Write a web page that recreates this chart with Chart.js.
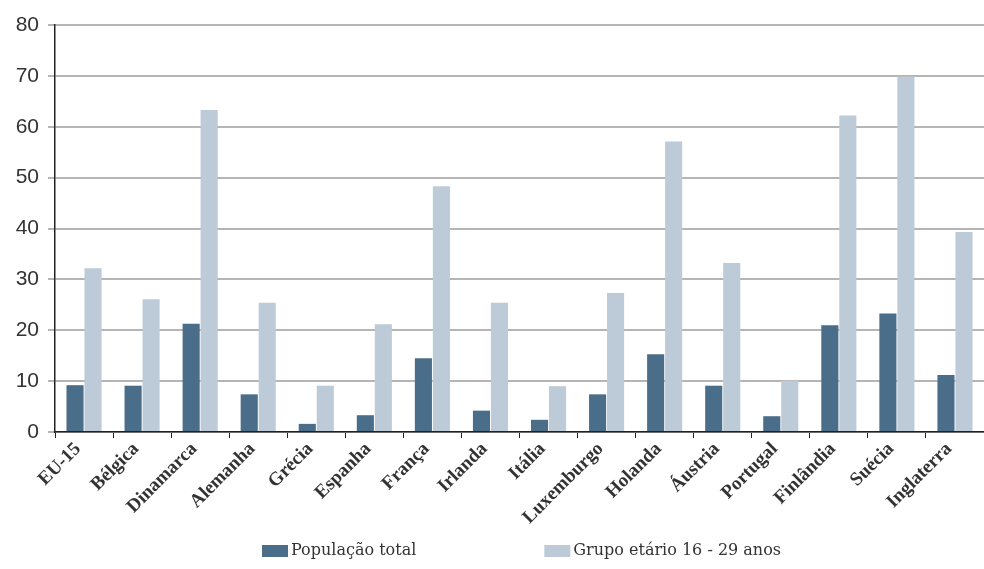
<!DOCTYPE html>
<html>
<head>
<meta charset="utf-8">
<script src="https://cdn.jsdelivr.net/npm/chart.js@4.4.1/dist/chart.umd.min.js"></script>
<style>
  html, body { margin: 0; padding: 0; background: #fff; }
  #wrap { width: 984px; height: 569px; }
</style>
</head>
<body>
<div id="wrap"><canvas id="grafico"></canvas></div>
<script>
/* Categorias e séries */
const PAISES = ["EU-15", "Bélgica", "Dinamarca", "Alemanha", "Grécia", "Espanha", "França", "Irlanda",
  "Itália", "Luxemburgo", "Holanda", "Áustria", "Portugal", "Finlândia", "Suécia", "Inglaterra"];
const POP_TOTAL = [9.2, 9.1, 21.3, 7.4, 1.6, 3.3, 14.5, 4.2, 2.4, 7.4, 15.3, 9.1, 3.1, 21.0, 23.3, 11.2];
const GRUPO_16_29 = [32.2, 26.1, 63.3, 25.4, 9.1, 21.2, 48.3, 25.4, 9.0, 27.3, 57.1, 33.2, 10.1, 62.2, 69.9, 39.3];
const Y_TICKS = [0, 10, 20, 30, 40, 50, 60, 70, 80];

const COR = {
  escuro: "#4a6d89",
  claro: "#bccbd7",
  grade: "#b5b5b5",
  eixo: "#222",
  texto: "#333",
};
const SERIFA = '"Liberation Serif", "Times New Roman", Times, serif';

// Legenda desenhada no canvas, com o espaçamento largo do original
const legendaLarga = {
  id: "legendaLarga",
  afterDraw(chart) {
    const ctx = chart.ctx;
    ctx.save();
    ctx.font = '16px "DejaVu Serif"';
    ctx.textBaseline = "middle";
    let x = 262;
    const y = 551;
    chart.data.datasets.forEach((d) => {
      ctx.fillStyle = d.backgroundColor;
      ctx.fillRect(x, y - 6, 26, 12);
      ctx.fillStyle = COR.texto;
      ctx.fillText(d.label, x + 29, y);
      x += 29 + ctx.measureText(d.label).width + 128;
    });
    ctx.restore();
  },
};

new Chart(document.getElementById("grafico"), {
  type: "bar",
  data: {
    labels: PAISES,
    datasets: [
      { label: "População total", data: POP_TOTAL, backgroundColor: COR.escuro, barPercentage: 0.95, categoryPercentage: 0.62 },
      { label: "Grupo etário 16 - 29 anos", data: GRUPO_16_29, backgroundColor: COR.claro, barPercentage: 0.95, categoryPercentage: 0.62 },
    ],
  },
  options: {
    responsive: true,
    maintainAspectRatio: false,
    animation: false,
    layout: { padding: { top: 25, right: 0, left: 0, bottom: 0 } },
    plugins: {
      tooltip: { enabled: false },
      legend: { display: false },
    },
    scales: {
      x: {
        afterFit: (s) => { s.height = 137; },
        grid: { offset: true, drawOnChartArea: false, color: COR.eixo, tickLength: 6, lineWidth: 1 },
        border: { color: COR.eixo, width: 1.5 },
        ticks: {
          maxRotation: 45,
          minRotation: 45,
          autoSkip: false,
          labelOffset: -6,
          color: COR.texto,
          font: { family: SERIFA, size: 19, weight: "bold" },
          padding: 0,
        },
      },
      y: {
        min: 0,
        max: 80,
        afterBuildTicks: (s) => { s.ticks = Y_TICKS.map((v) => ({ value: v })); },
        afterFit: (s) => { s.width = 55; },
        grid: { color: COR.grade, lineWidth: 2, tickLength: 7 },
        border: { color: COR.eixo, width: 1.5 },
        ticks: {
          color: COR.texto,
          font: { family: "Liberation Sans", size: 21 },
          padding: 9,
        },
      },
    },
  },
  plugins: [legendaLarga],
});
</script>
</body>
</html>
